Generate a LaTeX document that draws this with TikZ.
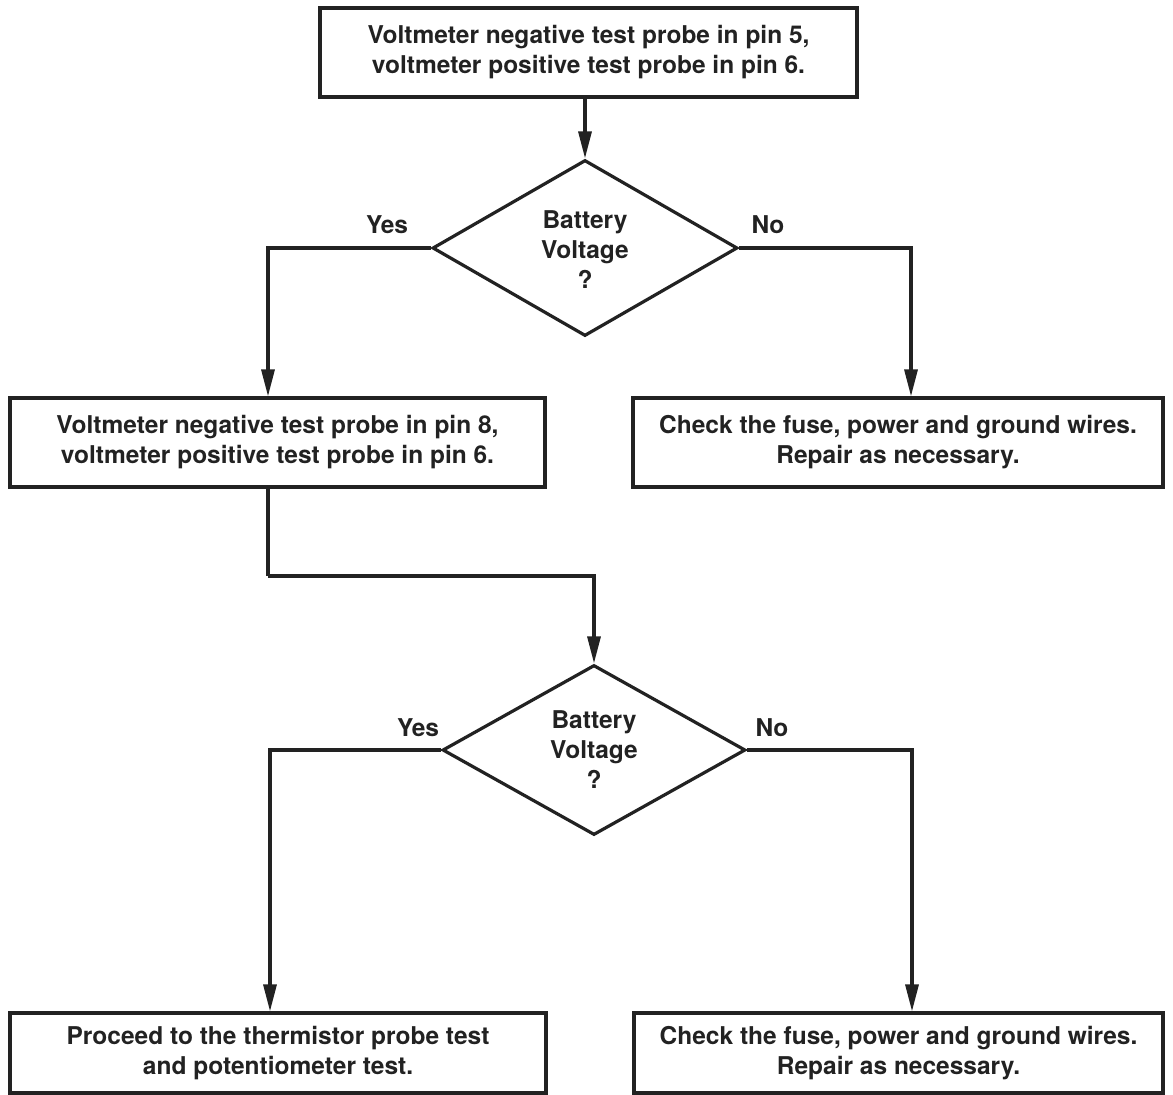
\documentclass[tikz,border=0pt]{standalone}
\usepackage{fontspec}
\setmainfont{TeX Gyre Heros}
\usetikzlibrary{shapes.geometric,arrows.meta}
\definecolor{ink}{HTML}{222222}
\begin{document}
\begin{tikzpicture}[x=1pt,y=1pt,
  txt/.style={text=ink,font=\fontsize{24.5}{30}\selectfont\bfseries,align=center,inner sep=0pt},
  stepbox/.style={draw=ink,line width=3.2pt,rectangle,inner sep=0pt},
  decide/.style={draw=ink,line width=3.2pt,diamond,inner sep=0pt,aspect=1.7},
  arr/.style={draw=ink,line width=3.2pt,-{Triangle[length=27pt,width=13pt]}},
  ln/.style={draw=ink,line width=3.2pt}]
\useasboundingbox (0,0) rectangle (1173,-1095);
\fill[white] (0,0) rectangle (1173,-1095);
% boxes
\node[stepbox,minimum width=537pt,minimum height=89pt] (b1) at (588.5,-52.5) {};
\node[txt] (t1) at (b1) {Voltmeter negative test probe in pin 5,\\voltmeter positive test probe in pin 6.};
\node[stepbox,minimum width=535pt,minimum height=89pt] (b2) at (277.5,-442.5) {};
\node[txt] (t2) at (b2) {Voltmeter negative test probe in pin 8,\\voltmeter positive test probe in pin 6.};
\node[stepbox,minimum width=530pt,minimum height=89pt] (b3) at (898,-442.5) {};
\node[txt] (t3) at (b3) {Check the fuse, power and ground wires.\\Repair as necessary.};
\node[stepbox,minimum width=536pt,minimum height=80pt] (b4) at (278,-1053) {};
\node[txt] (t4) at (b4) {Proceed to the thermistor probe test\\and potentiometer test.};
\node[stepbox,minimum width=529pt,minimum height=80pt] (b5) at (898.5,-1053) {};
\node[txt] (t5) at (b5) {Check the fuse, power and ground wires.\\Repair as necessary.};
% decisions
\node[decide,minimum width=305pt,minimum height=176pt] (d1) at (585,-248) {};
\node[txt] (dt1) at (585,-250) {Battery\\Voltage\\?};
\node[decide,minimum width=303pt,minimum height=170pt] (d2) at (594,-750) {};
\node[txt] (dt2) at (594,-750) {Battery\\Voltage\\?};
% labels
\node[txt] (y1) at (387,-225) {Yes};
\node[txt] (n1) at (768,-225) {No};
\node[txt] (y2) at (418,-728) {Yes};
\node[txt] (n2) at (772,-728) {No};
% guide coordinates
\coordinate (cl1) at (268,0);
\coordinate (cr1) at (911,0);
\coordinate (jog) at (268,-576);
\coordinate (cl2) at (270,0);
\coordinate (cr2) at (912,0);
% connectors
\draw[arr] (b1.south -| d1.north) -- (d1.north);
\draw[arr] (d1.west) -| (b2.north -| cl1);
\draw[arr] (d1.east) -| (b3.north -| cr1);
\draw[ln] (b2.south -| jog) -- (jog);
\draw[arr] (jog) -| (d2.north);
\draw[arr] (d2.west) -| (b4.north -| cl2);
\draw[arr] (d2.east) -| (b5.north -| cr2);
\end{tikzpicture}
\end{document}
